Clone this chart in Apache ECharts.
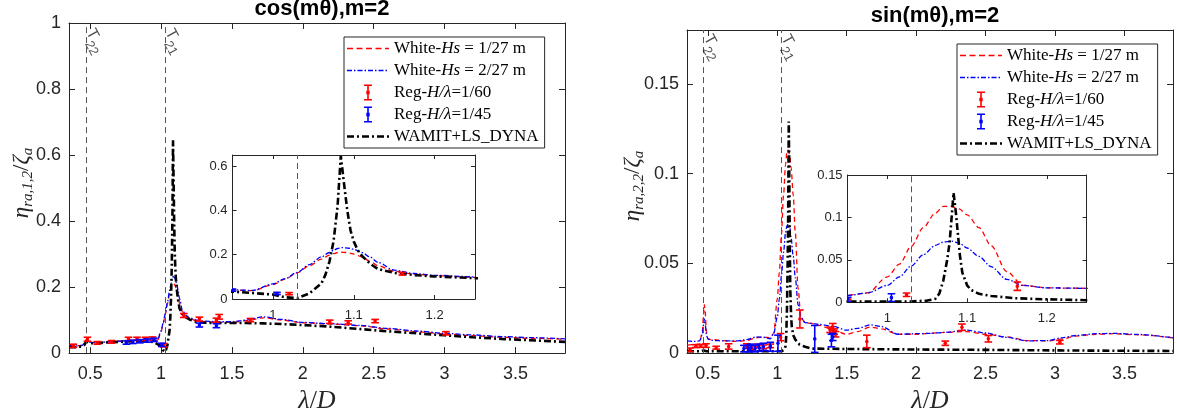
<!DOCTYPE html>
<html>
<head>
<meta charset="utf-8">
<script src="https://cdn.jsdelivr.net/npm/echarts@6/dist/echarts.min.js"></script>
<style>html,body{margin:0;padding:0;background:#fff;}#c{width:1177px;height:419px;}</style>
</head>
<body>
<div id="c"></div>
<script>
// ---------------- DATA ----------------
// cos(m theta), m=2
const cosWhiteX = [0.35,0.40,0.44,0.46,0.47,0.48,0.50,0.55,0.60,0.70,0.80,0.90,0.95,0.975,1.00,1.015,1.03,1.045,1.06,1.07,1.075,1.08,1.085,1.09,1.095,1.10,1.11,1.12,1.13,1.15,1.175,1.20,1.25,1.30,1.40,1.50,1.60,1.72,1.85,2.00,2.20,2.40,2.60,2.80,3.00,3.20,3.40,3.60,3.85];
const cosRed    = [0.022,0.022,0.023,0.030,0.040,0.038,0.033,0.031,0.033,0.036,0.039,0.041,0.040,0.038,0.065,0.090,0.118,0.150,0.180,0.198,0.205,0.210,0.211,0.210,0.207,0.203,0.190,0.170,0.150,0.125,0.112,0.105,0.098,0.095,0.093,0.093,0.098,0.107,0.100,0.092,0.088,0.083,0.073,0.065,0.058,0.053,0.048,0.045,0.042];
const cosBlue   = [0.022,0.022,0.023,0.030,0.040,0.038,0.033,0.031,0.033,0.036,0.039,0.041,0.041,0.039,0.068,0.092,0.120,0.155,0.190,0.210,0.220,0.228,0.232,0.231,0.229,0.224,0.210,0.190,0.165,0.130,0.115,0.107,0.100,0.097,0.095,0.095,0.100,0.110,0.102,0.093,0.089,0.084,0.075,0.067,0.060,0.055,0.050,0.047,0.043];
const cosBlackX = [0.35,0.40,0.44,0.46,0.47,0.48,0.50,0.55,0.60,0.70,0.80,0.90,0.95,0.975,1.00,1.015,1.03,1.045,1.06,1.065,1.07,1.075,1.08,1.084,1.088,1.092,1.096,1.10,1.105,1.11,1.12,1.13,1.15,1.175,1.20,1.25,1.30,1.40,1.50,1.60,1.72,1.85,2.00,2.20,2.40,2.60,2.80,3.00,3.20,3.40,3.60,3.85];
const cosBlack  = [0.018,0.018,0.020,0.025,0.035,0.033,0.030,0.030,0.032,0.034,0.036,0.037,0.033,0.027,0.020,0.008,0.004,0.025,0.070,0.110,0.170,0.260,0.420,0.645,0.520,0.400,0.310,0.260,0.220,0.195,0.160,0.135,0.118,0.108,0.102,0.094,0.092,0.091,0.091,0.091,0.090,0.088,0.085,0.080,0.073,0.066,0.060,0.054,0.048,0.043,0.039,0.034];
const cosRegRedX = [0.38,0.48,0.55,0.65,0.77,0.83,0.89,0.94,1.02,1.16,1.27,1.39,1.41,1.63,2.19,2.32,2.51,3.01];
const cosRegRedY = [0.022,0.042,0.031,0.034,0.043,0.043,0.043,0.044,0.024,0.114,0.103,0.100,0.110,0.100,0.095,0.093,0.097,0.060];
const cosRegRedE = [0.005,0.006,0.004,0.004,0.005,0.005,0.005,0.005,0.005,0.006,0.006,0.006,0.007,0.005,0.005,0.005,0.005,0.005];
const cosRegBlueX = [0.755,0.80,0.85,0.90,0.95,1.005,1.27,1.39];
const cosRegBlueY = [0.032,0.034,0.036,0.038,0.040,0.025,0.085,0.083];
const cosRegBlueE = [0.005,0.005,0.005,0.005,0.005,0.005,0.006,0.006];
const cosTLines = [0.472, 1.03];

// sin(m theta), m=2
const sinWhiteX = [0.35,0.40,0.44,0.46,0.47,0.475,0.48,0.49,0.50,0.52,0.55,0.60,0.70,0.78,0.85,0.90,0.95,0.975,1.00,1.015,1.03,1.045,1.06,1.07,1.08,1.09,1.10,1.115,1.13,1.15,1.17,1.20,1.25,1.30,1.40,1.50,1.58,1.67,1.75,1.87,2.00,2.10,2.20,2.36,2.50,2.65,2.80,2.95,3.05,3.15,3.30,3.42,3.60,3.85];
const sinRed    = [0.0045,0.0048,0.005,0.012,0.022,0.027,0.024,0.012,0.008,0.0075,0.0075,0.007,0.0065,0.007,0.0085,0.009,0.0085,0.011,0.030,0.045,0.066,0.088,0.105,0.113,0.113,0.110,0.103,0.088,0.067,0.036,0.020,0.017,0.0165,0.0155,0.013,0.0105,0.012,0.0145,0.0135,0.0105,0.0105,0.011,0.0115,0.012,0.0105,0.009,0.007,0.0068,0.0078,0.0095,0.0105,0.0108,0.0102,0.0085];
const sinBlue   = [0.0068,0.0065,0.0068,0.010,0.016,0.019,0.017,0.010,0.008,0.0072,0.007,0.0068,0.0068,0.0075,0.009,0.0088,0.008,0.011,0.020,0.030,0.043,0.056,0.067,0.071,0.072,0.070,0.064,0.054,0.042,0.027,0.020,0.017,0.0165,0.016,0.015,0.0128,0.0138,0.0157,0.0148,0.0105,0.0108,0.011,0.0115,0.0128,0.0112,0.0088,0.0068,0.007,0.0085,0.0098,0.0108,0.011,0.0104,0.0085];
const sinBlackX = [0.35,0.45,0.47,0.49,0.60,0.80,0.95,1.00,1.03,1.05,1.06,1.065,1.07,1.075,1.078,1.081,1.083,1.086,1.088,1.091,1.094,1.10,1.105,1.115,1.13,1.16,1.20,1.25,1.50,2.00,2.50,3.00,3.50,3.85];
const sinBlack  = [0.001,0.001,0.0015,0.001,0.001,0.001,0.001,0.001,0.001,0.002,0.004,0.010,0.025,0.050,0.070,0.105,0.129,0.105,0.085,0.055,0.035,0.020,0.0145,0.010,0.0075,0.0048,0.0035,0.0025,0.0023,0.002,0.0018,0.0015,0.0013,0.0012];
const sinRegRedX = [0.372,0.413,0.45,0.487,0.56,0.65,0.78,0.816,0.86,0.90,0.95,1.024,1.163,1.38,1.40,1.41,1.42,1.645,2.21,2.33,2.52,3.035];
const sinRegRedY = [0.0018,0.0039,0.004,0.0042,0.003,0.0037,0.004,0.003,0.004,0.0035,0.004,0.0089,0.019,0.013,0.0145,0.012,0.0105,0.0065,0.0055,0.0144,0.008,0.0061];
const sinRegRedE = [0.001,0.0008,0.0008,0.001,0.0008,0.0015,0.0012,0.001,0.001,0.001,0.001,0.002,0.005,0.0015,0.002,0.0015,0.0015,0.0035,0.0012,0.0018,0.0018,0.001];
const sinRegBlueX = [0.76,0.79,0.81,0.84,0.87,0.90,0.95,1.005,1.27,1.39,1.40];
const sinRegBlueY = [0.0025,0.0025,0.003,0.0025,0.003,0.0035,0.0035,0.0055,0.0079,0.007,0.009];
const sinRegBlueE = [0.0018,0.0018,0.002,0.0018,0.002,0.002,0.0025,0.0045,0.0075,0.0035,0.002];
const sinTLines = [0.471, 1.029];

// tick labels
const mainXTicks = [0.5,1,1.5,2,2.5,3,3.5];
const insetXTicks = [1,1.1,1.2];
const cosYTicks = [0,0.2,0.4,0.6,0.8,1];
const cosInsetYTicks = [0,0.2,0.4,0.6];
const sinYTicks = [0,0.05,0.1,0.15];
const sinInsetYTicks = [0,0.05,0.1,0.15];

const titles = ['cos(m\u03B8),m=2', 'sin(m\u03B8),m=2'];
const NAME_R = 'White-Hs = 1/27 m';
const NAME_B = 'White-Hs = 2/27 m';
const NAME_RR = 'Reg-H/\u03BB=1/60';
const NAME_RB = 'Reg-H/\u03BB=1/45';
const NAME_K = 'WAMIT+LS_DYNA';

// ---------------- CHART ----------------
const zip = (xs, ys) => xs.map((x, i) => [x, ys[i]]);
const zip3 = (xs, ys, es) => xs.map((x, i) => [x, ys[i], es[i]]);
const AX = '#262626';
const SANS = 'Liberation Sans';
const SERIF = 'Liberation Serif';

const grids = [
  {left: 69, top: 23, width: 496, height: 332},
  {left: 232.5, top: 155, width: 242.5, height: 144},
  {left: 687, top: 30, width: 486, height: 326},
  {left: 847.6, top: 175, width: 239, height: 127.3}
];
const xRanges = [[0.35,3.85],[0.95,1.25],[0.35,3.85],[0.95,1.25]];
const yRanges = [[0,1],[0,0.65],[0,0.18],[0,0.15]];
const xTickSets = [mainXTicks, insetXTicks, mainXTicks, insetXTicks];
const yTickSets = [cosYTicks, cosInsetYTicks, sinYTicks, sinInsetYTicks];

const xAxes = [], yAxes = [];
grids.forEach((g, gi) => {
  const main = gi % 2 === 0;
  const fs = main ? 18 : 13;
  const tl = main ? 6 : 4;
  ['bottom','top'].forEach((pos, k) => {
    xAxes.push({
      type: 'value', gridIndex: gi, position: pos, min: xRanges[gi][0], max: xRanges[gi][1],
      axisLine: {show: true, onZero: false, lineStyle: {color: AX, width: 1}},
      axisTick: {show: true, inside: true, length: tl, customValues: xTickSets[gi], lineStyle: {color: AX}},
      axisLabel: {show: k === 0, customValues: xTickSets[gi], margin: main ? 12 : 10, color: '#262626', fontFamily: SANS, fontSize: fs},
      splitLine: {show: false},
      name: (k === 0 && main) ? '{i|\u03BB}{n|/}{i|D}' : '',
      nameLocation: 'middle', nameGap: 34,
      nameTextStyle: {fontSize: 26, fontFamily: SERIF, rich: {
        i: {fontFamily: SERIF, fontStyle: 'italic', fontSize: 26, color: '#262626'},
        n: {fontFamily: SERIF, fontSize: 26, color: '#262626'}
      }}
    });
  });
  ['left','right'].forEach((pos, k) => {
    yAxes.push({
      type: 'value', gridIndex: gi, position: pos, min: yRanges[gi][0], max: yRanges[gi][1],
      axisLine: {show: true, onZero: false, lineStyle: {color: AX, width: 1}},
      axisTick: {show: true, inside: true, length: tl, customValues: yTickSets[gi], lineStyle: {color: AX}},
      axisLabel: {show: k === 0, customValues: yTickSets[gi], margin: main ? 8 : 5, color: '#262626', fontFamily: SANS, fontSize: fs},
      splitLine: {show: false}
    });
  });
});

function errRender(params, api) {
  const x = api.value(0), y = api.value(1), e = api.value(2);
  const cs = params.coordSys;
  const p = api.coord([x, y]);
  if (p[0] < cs.x - 1 || p[0] > cs.x + cs.width + 1) return;
  const t = api.coord([x, y + e]);
  const b = api.coord([x, y - e]);
  const c = api.visual('color');
  const hw = 3.8;
  const st = {stroke: c, lineWidth: 1.6};
  return {type: 'group', children: [
    {type: 'line', shape: {x1: p[0], y1: t[1], x2: p[0], y2: b[1]}, style: st},
    {type: 'line', shape: {x1: p[0]-hw, y1: t[1], x2: p[0]+hw, y2: t[1]}, style: st},
    {type: 'line', shape: {x1: p[0]-hw, y1: b[1], x2: p[0]+hw, y2: b[1]}, style: st},
    {type: 'circle', shape: {cx: p[0], cy: p[1], r: 1.8}, style: {fill: c}}
  ]};
}

const panels = [
  {wx: cosWhiteX, r: cosRed, b: cosBlue, kx: cosBlackX, k: cosBlack,
   rr: zip3(cosRegRedX, cosRegRedY, cosRegRedE), rb: zip3(cosRegBlueX, cosRegBlueY, cosRegBlueE), t: cosTLines, ty: 0.975},
  {wx: sinWhiteX, r: sinRed, b: sinBlue, kx: sinBlackX, k: sinBlack,
   rr: zip3(sinRegRedX, sinRegRedY, sinRegRedE), rb: zip3(sinRegBlueX, sinRegBlueY, sinRegBlueE), t: sinTLines, ty: 0.176}
];

const series = [];
panels.forEach((P, pi) => {
  [0, 1].forEach(sub => {
    const gi = pi * 2 + sub;
    const xi = gi * 2, yi = gi * 2;
    const main = sub === 0;
    series.push({type: 'line', name: NAME_R, xAxisIndex: xi, yAxisIndex: yi, data: zip(P.wx, P.r),
      symbol: 'none', smooth: 0.3, smoothMonotone: 'x', clip: true, z: 3,
      lineStyle: {color: '#ff0000', width: 1.3, type: [5, 3.5]}, itemStyle: {color: '#ff0000'}});
    series.push({type: 'line', name: NAME_B, xAxisIndex: xi, yAxisIndex: yi, data: zip(P.wx, P.b),
      symbol: 'none', smooth: 0.3, smoothMonotone: 'x', clip: true, z: 3,
      lineStyle: {color: '#0000ff', width: 1.3, type: [5, 2, 1.5, 2]}, itemStyle: {color: '#0000ff'}});
    series.push({type: 'custom', name: NAME_RR, xAxisIndex: xi, yAxisIndex: yi, data: P.rr,
      renderItem: errRender, clip: true, z: 5, itemStyle: {color: '#ff0000'}, encode: {x: 0, y: 1}});
    series.push({type: 'custom', name: NAME_RB, xAxisIndex: xi, yAxisIndex: yi, data: P.rb,
      renderItem: errRender, clip: true, z: 5, itemStyle: {color: '#0000ff'}, encode: {x: 0, y: 1}});
    const tl = main ? P.t : P.t.filter(v => v >= xRanges[gi][0] && v <= xRanges[gi][1]);
    series.push({type: 'line', name: NAME_K, xAxisIndex: xi, yAxisIndex: yi, data: zip(P.kx, P.k),
      symbol: 'none', clip: true, z: 4,
      lineStyle: {color: '#000', width: 2.6, type: [7, 3, 2, 3]}, itemStyle: {color: '#000'},
      markLine: {silent: true, symbol: 'none', label: {show: false}, animation: false,
        lineStyle: {color: '#555', width: 1, type: [6, 4]},
        data: tl.map(v => ({xAxis: v}))}});
    if (main) {
      series.push({type: 'scatter', xAxisIndex: xi, yAxisIndex: yi, silent: true, symbolSize: 0, z: 6,
        data: P.t.map((v, i) => ({value: [v, P.ty], name: i === 0 ? '22' : '21'})),
        label: {show: true, position: 'right', distance: 1, rotate: -62,
          formatter: p => '{t|T}{s|' + p.name + '}',
          rich: {
            t: {fontFamily: SANS, fontSize: 16, color: '#222', lineHeight: 22, verticalAlign: 'top'},
            s: {fontFamily: SANS, fontSize: 13, color: '#222', verticalAlign: 'bottom'}
          }}});
    }
  });
});

const legendRich = {
  n: {fontFamily: SERIF, fontSize: 17, color: '#000'},
  i: {fontFamily: SERIF, fontSize: 17, fontStyle: 'italic', color: '#000'}
};
const legendFmt = {};
legendFmt[NAME_R] = '{n|White-}{i|Hs}{n| = 1/27 m}';
legendFmt[NAME_B] = '{n|White-}{i|Hs}{n| = 2/27 m}';
legendFmt[NAME_RR] = '{n|Reg-}{i|H/\u03BB}{n|=1/60}';
legendFmt[NAME_RB] = '{n|Reg-}{i|H/\u03BB}{n|=1/45}';
legendFmt[NAME_K] = '{n|WAMIT+LS_DYNA}';
const ebIcon = 'path://M0,0h8v1.6h-3.2v12.8h3.2v1.6h-8v-1.6h3.2v-12.8h-3.2z M2.3,6.3h3.4v3.4h-3.4z';
const dashIcon = 'path://M0,0h6v1.4h-6z M9.5,0h6v1.4h-6z M19,0h6v1.4h-6z M28.5,0h6v1.4h-6z M38,0h4v1.4h-4z';
const dashDotIcon = 'path://M0,0h5v1.4h-5z M7,0h1.5v1.4h-1.5z M10.5,0h5v1.4h-5z M17.5,0h1.5v1.4h-1.5z M21,0h5v1.4h-5z M28,0h1.5v1.4h-1.5z M31.5,0h5v1.4h-5z M38.5,0h1.5v1.4h-1.5z M42,0h0v1.4h0z';
const blackIcon = 'path://M0,0h7v2.6h-7z M10,0h2v2.6h-2z M15,0h7v2.6h-7z M25,0h2v2.6h-2z M30,0h7v2.6h-7z M40,0h2v2.6h-2z';
const legendData = [
  {name: NAME_R, icon: dashIcon}, {name: NAME_B, icon: dashDotIcon},
  {name: NAME_RR, icon: ebIcon}, {name: NAME_RB, icon: ebIcon},
  {name: NAME_K, icon: blackIcon}
];
function mkLegend(left, top) {
  return {orient: 'vertical', left: left, top: top, itemWidth: 42, itemHeight: 16, itemGap: 5,
    padding: [3, 6, 3, 3], borderColor: AX, borderWidth: 1, backgroundColor: '#fff',
    selectedMode: false, data: legendData,
    formatter: n => legendFmt[n] || n,
    textStyle: {fontFamily: SERIF, fontSize: 17, color: '#000', rich: legendRich}};
}

// y-axis names (rotated text)
const yNameRich = {
  i: {fontFamily: SERIF, fontStyle: 'italic', fontSize: 23, fill: '#262626', lineHeight: 28, verticalAlign: 'middle'},
  n: {fontFamily: SERIF, fontSize: 23, fill: '#262626', lineHeight: 28, verticalAlign: 'middle'},
  s: {fontFamily: SERIF, fontStyle: 'italic', fontSize: 15, fill: '#262626', verticalAlign: 'bottom'}
};
const yNames = [
  '{i|\u03B7}{s|ra,1,2}{n|/}{i|\u03B6}{s|a}',
  '{i|\u03B7}{s|ra,2,2}{n|/}{i|\u03B6}{s|a}'
];

const option = {
  animation: false,
  backgroundColor: '#fff',
  title: [
    {text: titles[0], left: 317, top: -7, textAlign: 'center',
     textStyle: {fontFamily: SANS, fontWeight: 'bold', fontSize: 22, color: '#000'}},
    {text: titles[1], left: 930, top: 0, textAlign: 'center',
     textStyle: {fontFamily: SANS, fontWeight: 'bold', fontSize: 22, color: '#000'}}
  ],
  legend: [mkLegend(344, 37), mkLegend(957, 44)],
  grid: grids.map(g => Object.assign({containLabel: false}, g)),
  xAxis: xAxes,
  yAxis: yAxes,
  graphic: [
    {type: 'text', x: 22, y: 183, rotation: Math.PI / 2, silent: true,
     style: {text: yNames[0], rich: yNameRich, align: 'center', verticalAlign: 'middle'}},
    {type: 'text', x: 633, y: 186, rotation: Math.PI / 2, silent: true,
     style: {text: yNames[1], rich: yNameRich, align: 'center', verticalAlign: 'middle'}}
  ],
  series: series
};

const chart = echarts.init(document.getElementById('c'), null, {renderer: 'canvas'});
chart.setOption(option);
</script>
</body>
</html>
